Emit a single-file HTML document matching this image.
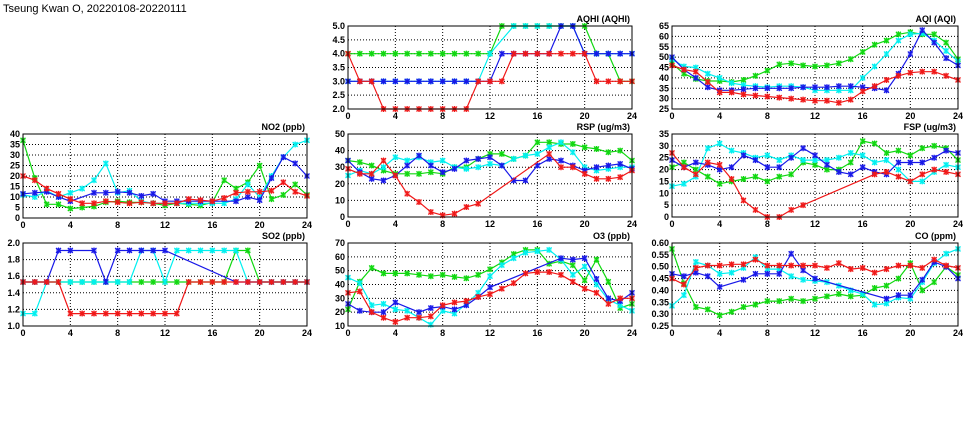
<!DOCTYPE html>
<html><head><meta charset="utf-8"><style>
html,body{margin:0;padding:0;background:#fff;width:975px;height:447px;overflow:hidden}
svg{display:block}
text{font-family:"Liberation Sans",sans-serif;font-weight:bold;font-size:9px;fill:#000}
</style></head><body>
<svg id="chart" width="975" height="447" viewBox="0 0 975 447" xmlns="http://www.w3.org/2000/svg">
<text x="3" y="12" style="font-size:11px;font-weight:normal">Tseung Kwan O, 20220108-20220111</text>
</svg>
<script>
const hours=[0,1,2,3,4,5,6,7,8,9,10,11,12,13,14,15,16,17,18,19,20,21,22,23,24];
const xTicks=[0,4,8,12,16,20,24];
const seriesNames=['green','cyan','blue','red'];
const seriesColors=['#10d810','#00f0f0','#1818e8','#f01818'];
const N=null;

const no2Green=[37,19,6.5,6.5,4.5,5,5.5,7.5,8,7.5,7.5,7,6,7,6.5,6,7.5,18,14,17,25,9,11,16,11];
const no2Cyan=[11,10,13,10,12,14,18,26,12,13,8,7,7,7,7,7,7,7,9,16,10,20,29,35,37];
const no2Blue=[11.5,12,12.5,10,8,N,12,12,12.5,12,10.5,11.5,8,8,8,8,8,N,8,10,8.5,19,29,26,20];
const no2Red=[20,18,14,11.5,9,7,7,8,7.5,7,7.5,7,7,7,9,8.5,8,9.5,12,12.5,12.5,13,17,12.5,10.5];
const no2Ticks=[0,5,10,15,20,25,30,35,40];

const aqhiGreen=[4,4,4,4,4,4,4,4,4,4,4,4,4,5,5,5,5,5,5,5,5,4,4,3,3];
const aqhiCyan=[3,3,3,3,3,3,3,3,3,3,3,3,4,N,5,5,5,5,5,5,4,4,4,4,4];
const aqhiBlue=[3,3,3,3,3,3,3,3,3,3,3,3,3,4,4,4,4,4,5,5,4,4,4,4,4];
const aqhiRed=[4,3,3,2,2,2,2,2,2,2,2,3,3,3,4,4,4,4,4,4,4,3,3,3,3];
const aqhiTicks=[2.0,2.5,3.0,3.5,4.0,4.5,5.0];

const aqiGreen=[47,42,39.5,38.5,38.5,38,39,41,43.5,46.5,47,46,45.5,46,47,49,52.5,56,58,61,62,61,61,57,49];
const aqiCyan=[49,45.5,45,42,40,37.5,36.5,36,35.5,36,36,35.5,34,34,34,34,40,45.5,51.5,58,61,61.5,58,53,48];
const aqiBlue=[50,44,40,35.5,34,34,34.5,35,35,35,35,35.5,35.5,35.5,36,36,35.5,35,34,42,51.5,63,57,49.5,46];
const aqiRed=[46,44,43,38,33,33,32,31.5,31,30.5,30,29.5,29,29,28,29.5,33.5,36,39,41,42.5,43,43,41,39];
const aqiTicks=[25,30,35,40,45,50,55,60,65];

const rspGreen=[34,33,31,28,26,26,26,27,26,30,30,35,38,38,35,37,45,45,44,44,42,41,39,40,34];
const rspCyan=[25,28,26,30,36,34,36,33,34,30,29,30,32,31,35,37,38,42,45,39,30,28,29,30,30];
const rspBlue=[34,27,23,22,25,31,37,31,27,29,34,35,36,31,22,22,31,35,34,31,28,30,31,32,29];
const rspRed=[29,26,26,34,25,14,9,3,1,2,6,8,N,N,N,N,N,38,30,30,26,23,23,24,28];
const rspTicks=[0,10,20,30,40,50];

const fspGreen=[21,23,20,17,14,15,16,17,15,17,18,23,22,20,20,23,32,31,27,28,26,29,30,29,24];
const fspCyan=[13,14,17,29,31,28,27,25,26,24,26,24,24,24,25,27,26,23,24,20,15,15,19,22,21];
const fspBlue=[24,21,23,22,20,21,26,24,21,21,25,29,26,22,19,18,21,19,18,23,23,23,25,28,27];
const fspRed=[27,21,18,23,22,16,7,3,0,0,3,5,N,N,N,N,N,18,19,17,15,18,20,19,18];
const fspTicks=[0,5,10,15,20,25,30,35];

const so2Green=[1.53,1.53,1.53,1.53,1.53,1.53,1.53,1.53,1.53,1.53,1.53,1.53,1.53,1.53,1.53,1.53,1.53,1.53,1.91,1.91,1.53,1.53,1.53,1.53,1.53];
const so2Cyan=[1.15,1.15,1.53,1.53,1.53,1.53,1.53,1.53,1.53,1.53,1.91,1.91,1.53,1.91,1.91,1.91,1.91,1.91,1.91,1.53,1.53,1.53,1.53,1.53,1.53];
const so2Blue=[1.53,1.53,1.53,1.91,1.91,N,1.91,1.53,1.91,1.91,1.91,1.91,1.91,N,N,N,N,N,1.53,1.53,1.53,1.53,1.53,1.53,1.53];
const so2Red=[1.53,1.53,1.53,1.53,1.15,1.15,1.15,1.15,1.15,1.15,1.15,1.15,1.15,1.15,1.53,1.53,1.53,1.53,1.53,1.53,1.53,1.53,1.53,1.53,1.53];
const so2Ticks=[1.0,1.2,1.4,1.6,1.8,2.0];

const o3Green=[22,42,52,48,48,48,47,46,47,45.5,44.5,47,51,56,62,65,65,55,57,54,43,58,42,23,26];
const o3Cyan=[45,41,25,26,22,21,16,11,21,19,26,34,46,54,59,63,64,65,58,47,53,40,29,25,21];
const o3Blue=[26,21,20,20,27,N,20,23,24,22,25,31,38,N,N,N,N,N,59,58,59,44,30,28,34];
const o3Red=[34,35,20,16,13,16,16,17,25,27,28,31,33,37,41,48,49,49,47,42,37,34,26,30,30];
const o3Ticks=[10,20,30,40,50,60,70];

const coGreen=[0.575,0.43,0.33,0.32,0.295,0.31,0.33,0.34,0.355,0.355,0.365,0.355,0.365,0.375,0.385,0.375,0.38,0.41,0.42,0.45,0.515,0.40,0.435,0.50,0.465];
const coCyan=[0.335,0.38,0.52,0.505,0.47,0.475,0.495,0.54,0.49,0.49,0.46,0.445,0.44,0.435,0.42,0.40,0.385,0.34,0.345,0.37,0.365,0.435,0.515,0.555,0.575];
const coBlue=[0.47,0.46,0.475,0.46,0.415,N,0.445,0.47,0.47,0.47,0.555,0.485,0.45,N,N,N,N,N,0.365,0.38,0.38,0.445,0.52,0.50,0.45];
const coRed=[0.45,0.425,0.495,0.505,0.505,0.51,0.51,0.53,0.505,0.505,0.505,0.505,0.505,0.495,0.515,0.49,0.495,0.475,0.49,0.505,0.505,0.495,0.53,0.505,0.495];
const coTicks=[0.25,0.30,0.35,0.40,0.45,0.50,0.55,0.60];

const panels=[
 {id:'aqhi',title:'AQHI (AQHI)',box:[348,26,632,109],ticks:aqhiTicks,dec:1,series:[aqhiGreen,aqhiCyan,aqhiBlue,aqhiRed]},
 {id:'aqi',title:'AQI (AQI)',box:[672,26,958,109],ticks:aqiTicks,dec:0,series:[aqiGreen,aqiCyan,aqiBlue,aqiRed]},
 {id:'no2',title:'NO2 (ppb)',box:[23,134,307,218],ticks:no2Ticks,dec:0,series:[no2Green,no2Cyan,no2Blue,no2Red]},
 {id:'rsp',title:'RSP (ug/m3)',box:[348,134,632,217],ticks:rspTicks,dec:0,series:[rspGreen,rspCyan,rspBlue,rspRed]},
 {id:'fsp',title:'FSP (ug/m3)',box:[672,134,958,217],ticks:fspTicks,dec:0,series:[fspGreen,fspCyan,fspBlue,fspRed]},
 {id:'so2',title:'SO2 (ppb)',box:[23,243,307,326],ticks:so2Ticks,dec:1,series:[so2Green,so2Cyan,so2Blue,so2Red]},
 {id:'o3',title:'O3 (ppb)',box:[348,243,632,326],ticks:o3Ticks,dec:0,series:[o3Green,o3Cyan,o3Blue,o3Red]},
 {id:'co',title:'CO (ppm)',box:[672,243,958,326],ticks:coTicks,dec:2,series:[coGreen,coCyan,coBlue,coRed]}
];

const NS='http://www.w3.org/2000/svg';
const svg=document.getElementById('chart');
function mk(tag,attrs,parent){const e=document.createElementNS(NS,tag);for(const k in attrs)e.setAttribute(k,attrs[k]);(parent||svg).appendChild(e);return e;}

panels.forEach(p=>{
  const [x0,y0,x1,y1]=p.box;
  const lo=p.ticks[0],hi=p.ticks[p.ticks.length-1];
  const sx=v=>x0+(v-0)/24*(x1-x0);
  const sy=v=>y1-(v-lo)/(hi-lo)*(y1-y0);
  const g=mk('g',{});
  
  
  // grid
  p.ticks.slice(1,-1).forEach(t=>{
    const l=mk('line',{x1:x0,x2:x1,y1:sy(t),y2:sy(t),stroke:'#000','stroke-width':1,'stroke-dasharray':'1,2'},g);
    
    
  });
  xTicks.slice(1,-1).forEach(t=>{
    const l=mk('line',{x1:sx(t),x2:sx(t),y1:y0,y2:y1,stroke:'#000','stroke-width':1,'stroke-dasharray':'1,2'},g);
    
    
  });
  // y labels
  p.ticks.forEach(t=>{
    const tx=mk('text',{x:x0-3,y:sy(t)+3,'text-anchor':'end'},g);
    tx.textContent=t.toFixed(p.dec);
    
    
  });
  xTicks.forEach(t=>{
    const tx=mk('text',{x:sx(t),y:y1+10,'text-anchor':'middle'},g);
    tx.textContent=t;
    
    
  });
  const tt=mk('text',{x:x1-2,y:y0-4,'text-anchor':'end'},g);
  tt.textContent=p.title;
  
  
  // series
  p.series.forEach((arr,si)=>{
    const col=seriesColors[si];
    const pts=[];
    arr.forEach((v,i)=>{if(v!==null)pts.push([sx(hours[i]),sy(v)]);});
    const pl=mk('polyline',{points:pts.map(q=>q[0].toFixed(1)+','+q[1].toFixed(1)).join(' '),fill:'none',stroke:col,'stroke-width':1.2},g);
    
    
    pts.forEach(q=>{
      const m=mk('g',{},g);
      
      
      mk('rect',{x:q[0]-2.5,y:q[1]-2.5,width:5,height:5,fill:col,opacity:0.45},m);
      mk('path',{d:`M${q[0]-2.5},${q[1]-2.5}L${q[0]+2.5},${q[1]+2.5}M${q[0]+2.5},${q[1]-2.5}L${q[0]-2.5},${q[1]+2.5}M${q[0]},${q[1]-3}L${q[0]},${q[1]+3}`,stroke:col,'stroke-width':1.2},m);
    });
  });
  const fr=mk('rect',{x:x0,y:y0,width:x1-x0,height:y1-y0,fill:'none',stroke:'#000','stroke-width':1},g);
  
  
});
</script>
</body></html>
